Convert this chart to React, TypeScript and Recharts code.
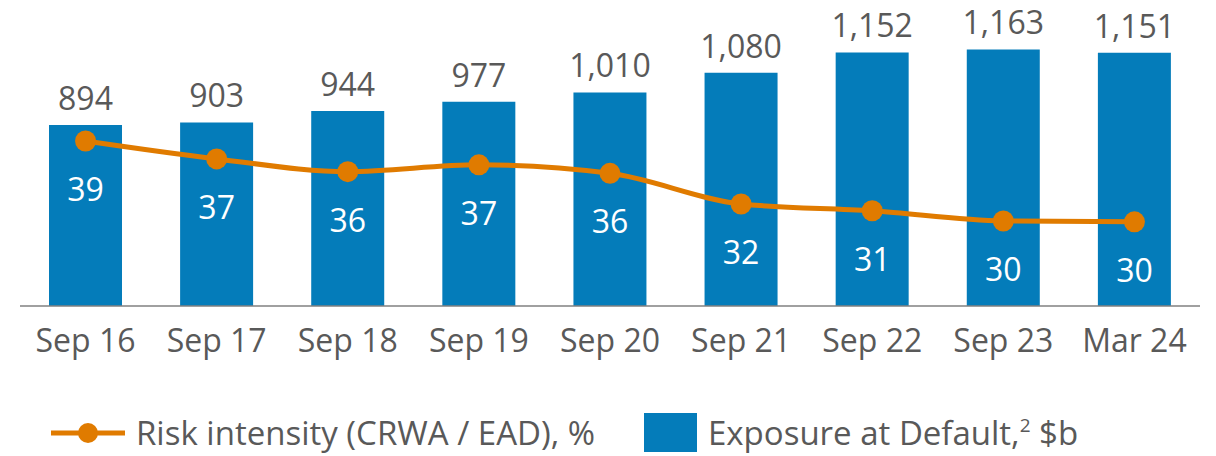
import { ComposedChart, Bar, Line, XAxis, YAxis, LabelList, Legend } from 'recharts'

document.body.style.margin = '0'

const FONT = '"Open Sans", sans-serif'
const TEXT = '#595959'
const BLUE = '#047cba'
const ORANGE = '#e07b00'

const periods = ['Sep 16', 'Sep 17', 'Sep 18', 'Sep 19', 'Sep 20', 'Sep 21', 'Sep 22', 'Sep 23', 'Mar 24']
// Exposure at Default, $b
const exposure = [894, 903, 944, 977, 1010, 1080, 1152, 1163, 1151]
// Risk intensity (CRWA / EAD), % - shown rounded
const riskIntensity = [39.4, 37.3, 35.8, 36.6, 35.6, 32.0, 31.2, 30.0, 29.9]

const data = periods.map((period, i) => ({
  period,
  ead: exposure[i],
  risk: riskIntensity[i],
}))

const BarValueLabel = (props: any) => {
  const { x, y, width, value } = props
  return (
    <text x={x + width / 2} y={y - 15} textAnchor="middle" fill={TEXT} fontSize={32} fontFamily={FONT}>
      {Number(value).toLocaleString('en-US')}
    </text>
  )
}

const RiskLabel = (props: any) => {
  const { x, y, value } = props
  return (
    <text x={x} y={y + 60} textAnchor="middle" fill="#ffffff" fontSize={32} fontFamily={FONT}>
      {Math.round(value)}
    </text>
  )
}

const renderLegend = () => (
  <div style={{ position: 'relative', width: 1216, height: 51, fontFamily: FONT, fontSize: 33, color: TEXT, lineHeight: '33px' }}>
    <svg style={{ position: 'absolute', left: 51, top: 16 }} width={74} height={24}>
      <line x1={0} y1={12} x2={74} y2={12} stroke={ORANGE} strokeWidth={5} />
      <circle cx={37} cy={12} r={10} fill={ORANGE} />
    </svg>
    <span style={{ position: 'absolute', left: 136, top: 11, whiteSpace: 'nowrap' }}>
      Risk intensity (CRWA / EAD), %
    </span>
    <div style={{ position: 'absolute', left: 644, top: 8, width: 53, height: 39, background: BLUE }} />
    <span style={{ position: 'absolute', left: 708, top: 11, whiteSpace: 'nowrap' }}>
      Exposure at Default,
      <span style={{ fontSize: 19, position: 'relative', top: -13, marginLeft: 0 }}>2</span> $b
    </span>
  </div>
)

export default function App() {
  return (
    <ComposedChart
      width={1216}
      height={456}
      data={data}
      margin={{ top: 39, right: 16, left: 20, bottom: 90 }}
      barCategoryGap="22%"
    >
      <XAxis
        dataKey="period"
        axisLine={{ stroke: '#808080', strokeWidth: 1.5 }}
        tickLine={false}
        tickSize={0}
        tickMargin={23}
        height={60}
        interval={0}
        tick={{ fill: TEXT, fontSize: 32, fontFamily: FONT }}
      />
      <YAxis yAxisId="ead" hide domain={[250, 1200]} />
      <YAxis yAxisId="risk" hide orientation="right" domain={[20, 51.4]} />
      <Legend
        verticalAlign="middle"
        align="center"
        content={renderLegend}
        wrapperStyle={{ top: 405, left: 0, width: 1216, height: 51 }}
      />
      <Bar yAxisId="ead" dataKey="ead" fill={BLUE} barSize={73} isAnimationActive={false} name="Exposure at Default, $b">
        <LabelList dataKey="ead" content={BarValueLabel} />
      </Bar>
      <Line
        yAxisId="risk"
        type="monotone"
        dataKey="risk"
        stroke={ORANGE}
        strokeWidth={5}
        dot={{ r: 10.5, fill: ORANGE, stroke: 'none' }}
        activeDot={false}
        isAnimationActive={false}
        name="Risk intensity (CRWA / EAD), %"
      >
        <LabelList dataKey="risk" content={RiskLabel} />
      </Line>
    </ComposedChart>
  )
}
